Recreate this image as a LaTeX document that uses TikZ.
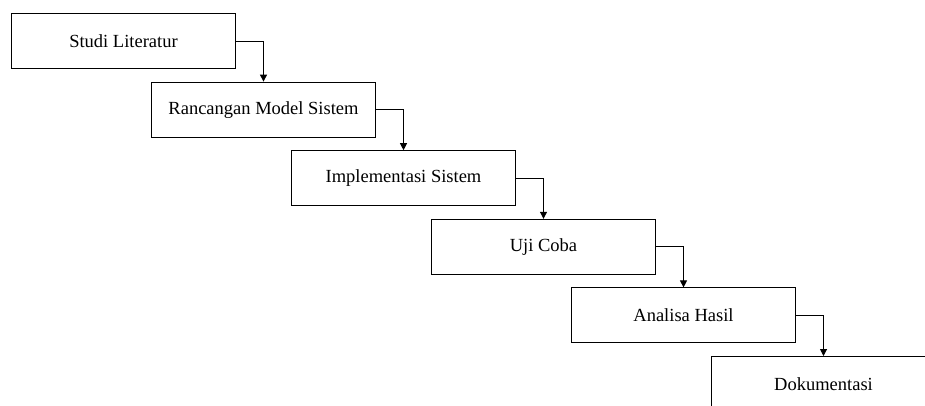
\documentclass[tikz,border=0pt]{standalone}
\usepackage{fontspec}
\setmainfont{Liberation Serif}
\usetikzlibrary{arrows.meta}
\begin{document}
\begin{tikzpicture}[x=1pt,y=-1pt,
  stepbox/.style={draw=black, line width=1pt, anchor=north west,
    minimum width=224pt, minimum height=55pt, inner sep=0pt,
    font=\fontsize{18.5}{22}\selectfont},
  flow/.style={draw=black, line width=1pt, -{Triangle[length=7pt,width=7pt]}}]
\clip (0,0) rectangle (925,405);
\fill[white] (0,0) rectangle (925,405);
\node[stepbox] (s1) at (11,13)    {Studi Literatur};
\node[stepbox] (s2) at (151,81.6) {Rancangan Model Sistem};
\node[stepbox] (s3) at (291,150.2){Implementasi Sistem};
\node[stepbox] (s4) at (431,218.8){Uji Coba};
\node[stepbox] (s5) at (571,287.4){Analisa Hasil};
\node[stepbox] (s6) at (711,356)  {Dokumentasi};
\draw[flow] (s1.east) -| (s2.north);
\draw[flow] (s2.east) -| (s3.north);
\draw[flow] (s3.east) -| (s4.north);
\draw[flow] (s4.east) -| (s5.north);
\draw[flow] (s5.east) -| (s6.north);
\end{tikzpicture}
\end{document}
